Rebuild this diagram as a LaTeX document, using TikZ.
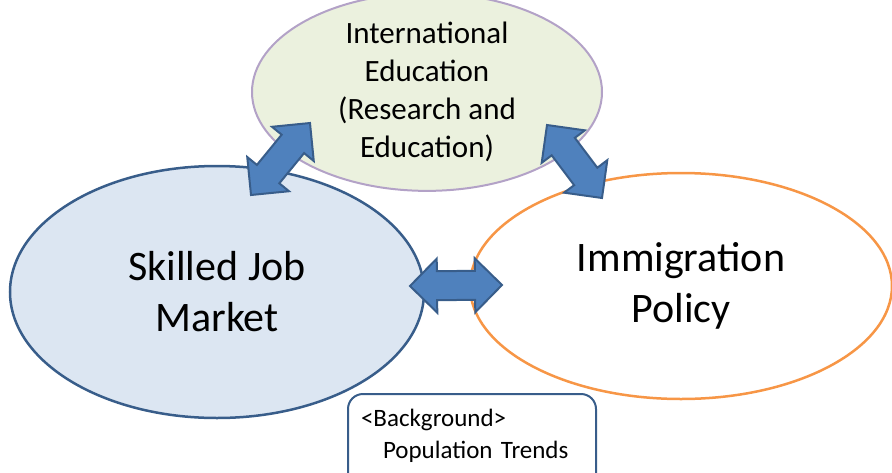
\documentclass[tikz,border=0pt]{standalone}
\usepackage{fontspec}
\setmainfont{Carlito}
\usetikzlibrary{shapes.geometric,shapes.arrows,calc}

\definecolor{edufill}{HTML}{EBF1DE}
\definecolor{eduline}{HTML}{B3A2C7}
\definecolor{jobfill}{HTML}{DCE6F2}
\definecolor{jobline}{HTML}{385D8A}
\definecolor{policyline}{HTML}{F79646}
\definecolor{arrowfill}{HTML}{4F81BD}
\definecolor{arrowline}{HTML}{385D8A}

\tikzset{
  bubble/.style={ellipse, inner sep=0pt, align=center, line width=2.5pt},
  blockarrow/.style={double arrow, draw=arrowline, fill=arrowfill, line width=2pt,
    inner xsep=0pt, inner ysep=13.5pt, double arrow head extend=12.5pt},
  trendbox/.style={draw=jobline, line width=2pt, rounded corners=15pt, align=left,
    font=\fontsize{25}{32}\selectfont},
}

% block arrow between two named coordinates
\newcommand{\linkarrow}[2]{%
  \path let \p1=($(#2)-(#1)$), \n1={atan2(\y1,\x1)}, \n2={veclen(\x1,\y1)} in
    node[blockarrow, rotate=\n1, minimum height=\n2] at ($(#1)!0.5!(#2)$) {};}

\begin{document}
\begin{tikzpicture}[x=1pt,y=-1pt]
  \clip (0,0) rectangle (892,472);

  % Circles
  \node[bubble, fill=edufill, draw=eduline, line width=2pt, minimum width=350pt,
    minimum height=172pt, font=\fontsize{31}{38}\selectfont] (edu) at (427,92)
    {International\\Education\\(Research and\\Education)};
  \node[bubble, fill=jobfill, draw=jobline, minimum width=414pt, minimum height=252pt,
    font=\fontsize{42}{51}\selectfont] (job) at (217,292) {Skilled Job\\Market};
  \node[bubble, fill=white, draw=policyline, minimum width=422pt, minimum height=226pt,
    font=\fontsize{42}{51}\selectfont] (policy) at (681,286) {Immigration\\Policy};

  % Arrows
  \coordinate (jobtip) at (251,195);
  \coordinate (edutipl) at (310,123);
  \coordinate (edutipr) at (547,125);
  \coordinate (policytip) at (602,198);
  \coordinate (jobtipr) at (410,286);
  \coordinate (policytipl) at (502,285);
  \linkarrow{jobtip}{edutipl}
  \linkarrow{edutipr}{policytip}
  \linkarrow{jobtipr}{policytipl}

  % Background box
  \node[trendbox, anchor=north west, inner xsep=13pt, inner ysep=15pt,
    text width=222pt, text depth=60pt] (trends) at (347,393)
    {<Background>\\\hspace*{22pt}Population Trends};
\end{tikzpicture}
\end{document}
